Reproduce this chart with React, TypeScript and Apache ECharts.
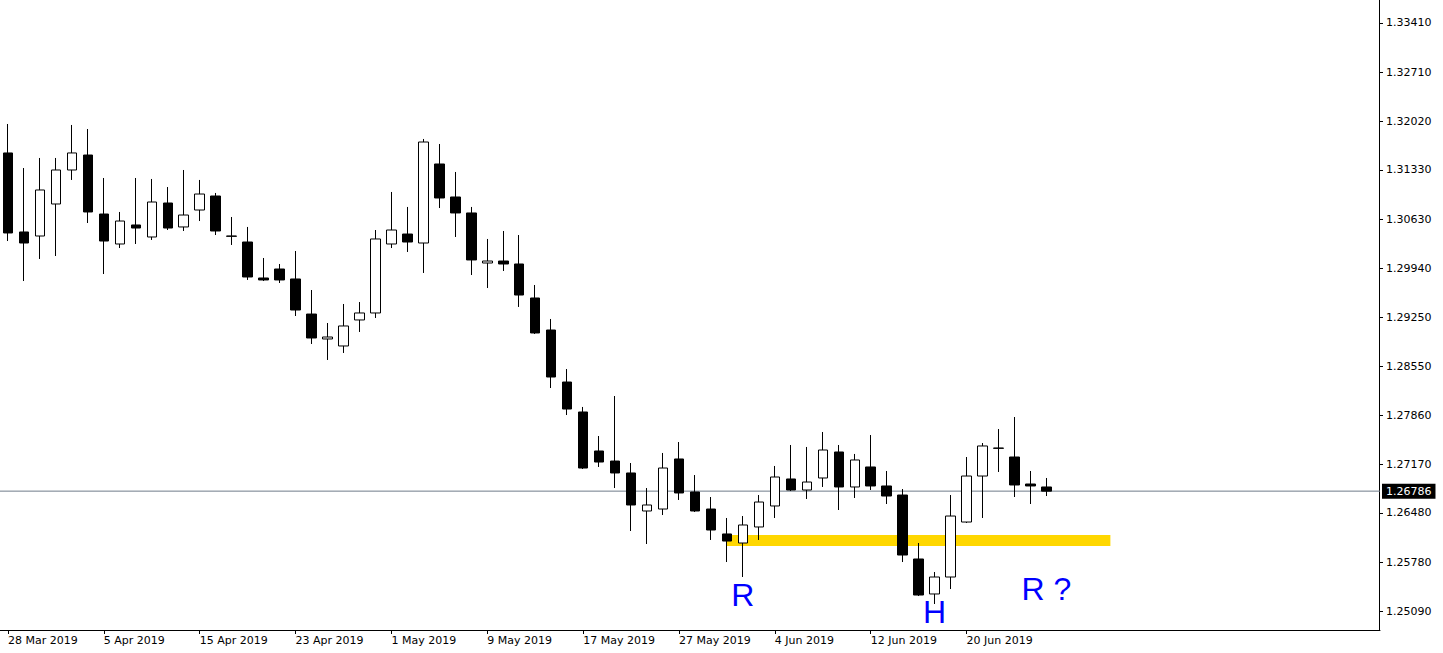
import React, { useEffect, useRef } from "react";
import * as echarts from "echarts";

const dates = [
  "28 Mar 2019", "29 Mar 2019", "1 Apr 2019", "2 Apr 2019", "3 Apr 2019", "4 Apr 2019",
  "5 Apr 2019", "8 Apr 2019", "9 Apr 2019", "10 Apr 2019", "11 Apr 2019", "12 Apr 2019",
  "15 Apr 2019", "16 Apr 2019", "17 Apr 2019", "18 Apr 2019", "19 Apr 2019", "22 Apr 2019",
  "23 Apr 2019", "24 Apr 2019", "25 Apr 2019", "26 Apr 2019", "29 Apr 2019", "30 Apr 2019",
  "1 May 2019", "2 May 2019", "3 May 2019", "6 May 2019", "7 May 2019", "8 May 2019",
  "9 May 2019", "10 May 2019", "13 May 2019", "14 May 2019", "15 May 2019", "16 May 2019",
  "17 May 2019", "20 May 2019", "21 May 2019", "22 May 2019", "23 May 2019", "24 May 2019",
  "27 May 2019", "28 May 2019", "29 May 2019", "30 May 2019", "31 May 2019", "3 Jun 2019",
  "4 Jun 2019", "5 Jun 2019", "6 Jun 2019", "7 Jun 2019", "10 Jun 2019", "11 Jun 2019",
  "12 Jun 2019", "13 Jun 2019", "14 Jun 2019", "17 Jun 2019", "18 Jun 2019", "19 Jun 2019",
  "20 Jun 2019", "21 Jun 2019", "24 Jun 2019", "25 Jun 2019", "26 Jun 2019", "27 Jun 2019",
];

const opens = [
  1.31571, 1.30453, 1.30396, 1.30849, 1.3133, 1.31542, 1.30707, 1.30283, 1.30552, 1.30382,
  1.30863, 1.30524, 1.30764, 1.30962, 1.30396, 1.30311, 1.29802, 1.29929, 1.29788, 1.29292,
  1.28939, 1.2884, 1.29208, 1.29307, 1.30283, 1.30424, 1.30297, 1.31415, 1.30948, 1.30722,
  1.30014, 1.30042, 1.3, 1.29519, 1.29066, 1.2833, 1.27906, 1.27354, 1.27212, 1.27043,
  1.26505, 1.26533, 1.27241, 1.26774, 1.26533, 1.2618, 1.26052, 1.26279, 1.26576, 1.26958,
  1.26802, 1.26972, 1.2734, 1.26845, 1.27128, 1.26859, 1.26731, 1.25826, 1.25331, 1.25571,
  1.26349, 1.27, 1.27396, 1.27269, 1.26887, 1.26845,
];
const closes = [
  1.30439, 1.30297, 1.31047, 1.3133, 1.31571, 1.30736, 1.30325, 1.30608, 1.30509, 1.30877,
  1.30509, 1.30693, 1.3099, 1.30467, 1.30392, 1.29816, 1.29774, 1.29774, 1.29349, 1.28953,
  1.28967, 1.29123, 1.29307, 1.30354, 1.30481, 1.30311, 1.31726, 1.30934, 1.30722, 1.30057,
  1.30042, 1.3, 1.29561, 1.29024, 1.28401, 1.27948, 1.27113, 1.27198, 1.27043, 1.2659,
  1.2659, 1.27113, 1.2676, 1.26505, 1.26236, 1.2608, 1.26307, 1.26632, 1.26986, 1.26802,
  1.26915, 1.27368, 1.26845, 1.27227, 1.26859, 1.26717, 1.25882, 1.25316, 1.25571, 1.26434,
  1.27, 1.27425, 1.27392, 1.26873, 1.26859, 1.26786,
];
const lows = [
  1.30325, 1.29759, 1.30071, 1.30113, 1.31189, 1.3058, 1.29858, 1.30226, 1.30283, 1.3034,
  1.30481, 1.30467, 1.30608, 1.3041, 1.30269, 1.29774, 1.29759, 1.29731, 1.29264, 1.28868,
  1.28642, 1.28741, 1.29038, 1.29236, 1.30226, 1.3017, 1.29873, 1.30792, 1.30382, 1.29844,
  1.2966, 1.29901, 1.29392, 1.2901, 1.28245, 1.27863, 1.27099, 1.27128, 1.2683, 1.26222,
  1.26038, 1.26448, 1.26661, 1.26491, 1.26095, 1.25783, 1.25571, 1.26095, 1.26406, 1.26788,
  1.26675, 1.26845, 1.26519, 1.26689, 1.26802, 1.26604, 1.25783, 1.25302, 1.25189, 1.25401,
  1.26335, 1.26406, 1.27057, 1.26703, 1.26604, 1.26717,
];
const highs = [
  1.31981, 1.31358, 1.315, 1.315, 1.31967, 1.3191, 1.31217, 1.30736, 1.31217, 1.31203,
  1.31089, 1.3133, 1.31189, 1.31005, 1.30665, 1.30524, 1.30085, 1.3, 1.30184, 1.29632,
  1.29165, 1.29434, 1.29462, 1.30481, 1.31019, 1.30807, 1.31769, 1.31698, 1.31302, 1.30807,
  1.30354, 1.30467, 1.3041, 1.29703, 1.29222, 1.28514, 1.27977, 1.27566, 1.28132, 1.27184,
  1.2683, 1.27326, 1.27481, 1.27014, 1.26703, 1.26406, 1.26434, 1.26731, 1.27142, 1.27439,
  1.27411, 1.27623, 1.27439, 1.27312, 1.2758, 1.27071, 1.26816, 1.26052, 1.25642, 1.26731,
  1.27269, 1.27467, 1.27665, 1.27835, 1.27071, 1.26972,
];

const priceTicks = [
  1.3341, 1.3271, 1.3202, 1.3133, 1.3063, 1.2994, 1.2925, 1.2855, 1.2786, 1.2717, 1.2648,
  1.2578, 1.2509,
];
const priceMin = 1.248212;
const priceMax = 1.337354;
const currentPrice = 1.26786;
const labelEvery = 6;
const emptySlots = 20;

// support zone rectangle (index range and price range)
const zoneStart = 45;
const zoneEnd = 69;
const zoneTop = 1.26165;
const zoneBottom = 1.2601;

const notes = [
  { text: "R", index: 46, price: 1.25316 },
  { text: "H", index: 58, price: 1.25069 },
  { text: "R ?", index: 65, price: 1.25397 },
];

const categories = [
  ...dates,
  ...Array.from({ length: emptySlots }, (_, i) => `slot${i + 1}`),
];
const candles = dates.map((_, i) => [opens[i], closes[i], lows[i], highs[i]]);

const AXIS_FONT = "'DejaVu Sans', Verdana, sans-serif";

export default function App() {
  const ref = useRef<HTMLDivElement>(null);
  useEffect(() => {
    if (!ref.current) return;
    const chart = echarts.init(ref.current, undefined, { renderer: "svg" });
    const showIdx = (i: number) => i % labelEvery === 0 && i < dates.length;
    chart.setOption({
      animation: false,
      backgroundColor: "#ffffff",
      grid: [
        { left: 0, top: 0, width: 1380, height: 630 },
        { left: -2, top: 0, width: 16 * categories.length, height: 630 },
        { left: 1379, top: 0, width: 1, height: 630 },
      ],
      xAxis: [
        {
          type: "value",
          gridIndex: 0,
          min: 0,
          max: 1,
          axisLine: { show: true, lineStyle: { color: "#000", width: 1 } },
          axisTick: { show: false },
          axisLabel: { show: false },
          splitLine: { show: false },
        },
        {
          type: "category",
          gridIndex: 1,
          data: categories,
          boundaryGap: true,
          axisLine: { show: false },
          axisTick: {
            show: true,
            alignWithLabel: true,
            interval: (i: number) => showIdx(i),
            length: 4,
            lineStyle: { color: "#000" },
          },
          axisLabel: {
            show: true,
            interval: (i: number) => showIdx(i),
            align: "left",
            margin: 5,
            color: "#000",
            fontSize: 11,
            fontFamily: AXIS_FONT,
          },
          splitLine: { show: false },
        },
        {
          type: "value",
          gridIndex: 2,
          min: 0,
          max: 1,
          show: false,
        },
      ],
      yAxis: [
        {
          type: "value",
          gridIndex: 0,
          min: priceMin,
          max: priceMax,
          show: false,
          splitLine: { show: false },
        },
        {
          type: "value",
          gridIndex: 1,
          min: priceMin,
          max: priceMax,
          show: false,
          splitLine: { show: false },
        },
        {
          type: "value",
          gridIndex: 2,
          position: "right",
          min: priceMin,
          max: priceMax,
          axisLine: { show: true, lineStyle: { color: "#000", width: 1 } },
          axisTick: {
            show: true,
            customValues: priceTicks,
            length: 4,
            lineStyle: { color: "#000" },
          },
          axisLabel: {
            show: true,
            customValues: priceTicks,
            formatter: (v: number) => v.toFixed(5),
            margin: 6,
            color: "#000",
            fontSize: 11,
            fontFamily: AXIS_FONT,
          },
          splitLine: { show: false },
        },
      ],
      series: [
        {
          type: "candlestick",
          xAxisIndex: 1,
          yAxisIndex: 1,
          data: candles,
          barWidth: 10,
          itemStyle: {
            color: "#ffffff",
            color0: "#000000",
            borderColor: "#000000",
            borderColor0: "#000000",
            borderColorDoji: "#000000",
            borderWidth: 1,
          },
          markArea: {
            silent: true,
            itemStyle: { color: "#FFD700", opacity: 1 },
            data: [
              [
                { coord: [categories[zoneStart], zoneTop] },
                { coord: [categories[zoneEnd], zoneBottom] },
              ],
            ],
          },
          markPoint: {
            silent: true,
            symbol: "circle",
            symbolSize: 0,
            data: notes.map((n) => ({
              name: n.text,
              coord: [categories[n.index], n.price],
              label: {
                show: true,
                position: "inside",
                formatter: n.text,
                color: "#0000FF",
                fontSize: 32,
                fontFamily: "'Liberation Sans', Arial, sans-serif",
              },
            })),
          },
        },
        {
          type: "line",
          xAxisIndex: 0,
          yAxisIndex: 0,
          data: [
            [0, currentPrice],
            [1, currentPrice],
          ],
          symbol: "none",
          silent: true,
          z: 1,
          lineStyle: { color: "#6f7c8a", width: 1 },
          endLabel: {
            show: true,
            formatter: currentPrice.toFixed(5),
            distance: 2,
            color: "#ffffff",
            backgroundColor: "#000000",
            padding: [2, 4, 2, 4],
            fontSize: 11,
            fontFamily: AXIS_FONT,
          },
        },
      ],
    });
    return () => chart.dispose();
  }, []);
  return (
    <div
      ref={ref}
      style={{ position: "fixed", left: 0, top: 0, width: 1443, height: 653, background: "#fff" }}
    />
  );
}
